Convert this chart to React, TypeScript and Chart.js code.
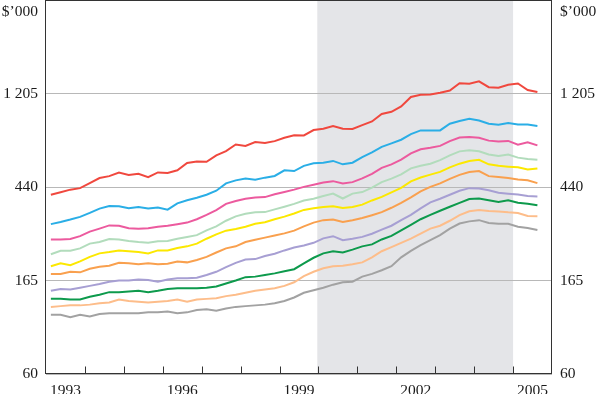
import React, { useEffect, useRef } from 'react';
import { Chart, registerables } from 'chart.js';

Chart.register(...registerables);

// ---------- DATA ----------
const QUARTERS = [
  '1993Q1', '1993Q2', '1993Q3', '1993Q4', '1994Q1', '1994Q2', '1994Q3', '1994Q4',
  '1995Q1', '1995Q2', '1995Q3', '1995Q4', '1996Q1', '1996Q2', '1996Q3', '1996Q4',
  '1997Q1', '1997Q2', '1997Q3', '1997Q4', '1998Q1', '1998Q2', '1998Q3', '1998Q4',
  '1999Q1', '1999Q2', '1999Q3', '1999Q4', '2000Q1', '2000Q2', '2000Q3', '2000Q4',
  '2001Q1', '2001Q2', '2001Q3', '2001Q4', '2002Q1', '2002Q2', '2002Q3', '2002Q4',
  '2003Q1', '2003Q2', '2003Q3', '2003Q4', '2004Q1', '2004Q2', '2004Q3', '2004Q4',
  '2005Q1', '2005Q2', '2005Q3',
];

const DECILE_10 = [408, 419, 431, 438, 462, 488, 498, 517, 504, 511, 493, 518, 515, 530, 573, 583, 581, 622, 651, 699, 687, 717, 710, 724, 751, 771, 770, 815, 827, 852, 827, 825, 859, 894, 968, 991, 1049, 1161, 1190, 1192, 1215, 1244, 1345, 1337, 1373, 1289, 1281, 1324, 1341, 1251, 1224];
const DECILE_9 = [298, 305, 313, 322, 336, 352, 362, 361, 353, 358, 352, 356, 348, 372, 385, 395, 408, 426, 461, 476, 486, 479, 490, 499, 530, 526, 556, 571, 574, 586, 565, 575, 610, 642, 681, 707, 735, 780, 812, 812, 812, 872, 898, 920, 903, 872, 863, 880, 865, 864, 852];
const DECILE_8 = [253, 253, 254, 262, 275, 284, 294, 293, 285, 284, 285, 290, 293, 298, 303, 314, 329, 346, 370, 382, 391, 396, 398, 410, 420, 431, 444, 454, 465, 472, 460, 467, 486, 510, 544, 565, 594, 635, 664, 675, 688, 724, 753, 756, 751, 728, 722, 726, 697, 716, 692];
const DECILE_7 = [216, 224, 224, 230, 242, 246, 254, 253, 249, 246, 244, 248, 249, 255, 260, 265, 279, 291, 309, 324, 333, 338, 339, 349, 359, 370, 384, 391, 403, 413, 392, 413, 420, 440, 467, 485, 507, 541, 556, 569, 591, 622, 649, 656, 650, 628, 617, 628, 607, 598, 594];
const DECILE_6 = [190, 196, 192, 200, 210, 218, 221, 225, 223, 221, 218, 225, 225, 231, 235, 242, 255, 267, 278, 283, 290, 299, 304, 314, 323, 334, 347, 353, 358, 361, 354, 358, 367, 384, 399, 419, 439, 471, 491, 506, 521, 547, 569, 586, 593, 565, 556, 551, 547, 535, 541];
const DECILE_5 = [175, 175, 179, 178, 185, 189, 191, 197, 196, 194, 196, 194, 195, 200, 198, 203, 210, 220, 230, 235, 246, 252, 258, 264, 270, 278, 291, 303, 311, 313, 305, 311, 318, 328, 339, 355, 374, 397, 423, 444, 461, 484, 505, 520, 526, 498, 493, 488, 480, 476, 462];
const DECILE_4 = [146, 149, 148, 151, 154, 157, 161, 163, 163, 165, 164, 161, 165, 167, 167, 168, 173, 179, 188, 197, 204, 205, 212, 217, 225, 232, 237, 244, 256, 262, 251, 255, 260, 269, 281, 293, 311, 329, 353, 376, 391, 408, 426, 438, 436, 428, 417, 413, 409, 403, 401];
const DECILE_3 = [134, 134, 133, 133, 137, 140, 144, 144, 145, 146, 144, 146, 149, 150, 150, 150, 151, 153, 158, 163, 169, 170, 173, 176, 180, 184, 196, 208, 218, 223, 220, 227, 235, 240, 253, 263, 279, 296, 314, 329, 344, 359, 374, 390, 392, 385, 378, 385, 375, 371, 365];
const DECILE_2 = [123, 124, 125, 125, 126, 128, 129, 133, 131, 130, 129, 130, 131, 133, 130, 133, 134, 135, 138, 140, 143, 146, 148, 150, 154, 160, 171, 179, 186, 190, 191, 194, 198, 209, 223, 233, 244, 255, 269, 284, 293, 309, 328, 342, 347, 343, 341, 338, 336, 325, 324];
const DECILE_1 = [113, 113, 110, 113, 111, 114, 115, 115, 115, 115, 116, 116, 117, 115, 116, 119, 120, 118, 121, 123, 124, 125, 126, 128, 131, 136, 143, 147, 151, 156, 160, 161, 170, 175, 182, 190, 209, 224, 238, 251, 265, 284, 300, 307, 311, 302, 299, 299, 290, 286, 280];

const Y_TICKS = [60, 163.1, 443.3, 1205.1];
const Y_TICK_LABELS = ['60', '165', '440', '1 205'];
const YEAR_LABELS = [1993, 1996, 1999, 2002, 2005];
const X_MIN = 1993;
const X_MAX = 2006;
const Y_MIN = 60;
const Y_MAX = 3276;
const SHADE_START = 1999.97;
const SHADE_END = 2005;
const UNIT = '$\u2019000';

// ---------- STYLE ----------
const SERIES = [
  { name: 'Decile 10', color: '#f0483e', values: DECILE_10 },
  { name: 'Decile 9', color: '#2aaee6', values: DECILE_9 },
  { name: 'Decile 8', color: '#ec5a9e', values: DECILE_8 },
  { name: 'Decile 7', color: '#b2dcbc', values: DECILE_7 },
  { name: 'Decile 6', color: '#fce800', values: DECILE_6 },
  { name: 'Decile 5', color: '#f9a04e', values: DECILE_5 },
  { name: 'Decile 4', color: '#a79fd3', values: DECILE_4 },
  { name: 'Decile 3', color: '#0d9a4c', values: DECILE_3 },
  { name: 'Decile 2', color: '#fdbd8a', values: DECILE_2 },
  { name: 'Decile 1', color: '#a2a2a2', values: DECILE_1 },
];

const FONT = { family: '"Liberation Serif", "Times New Roman", serif', size: 15.5 };
const TEXT_COLOR = '#1a1a1a';
const FRAME_COLOR = '#333333';

function quarterToX(q: string): number {
  const year = parseInt(q.slice(0, 4), 10);
  const qn = parseInt(q.slice(5), 10);
  return year + (qn - 0.5) / 4;
}

const decor = {
  id: 'decor',
  beforeDraw(chart: any) {
    const { ctx, chartArea: a, scales } = chart;
    const x = scales.x;
    const x0 = x.getPixelForValue(SHADE_START);
    const x1 = x.getPixelForValue(SHADE_END);
    ctx.save();
    ctx.fillStyle = '#e4e5e8';
    ctx.fillRect(x0, a.top, x1 - x0, a.bottom - a.top);
    ctx.restore();
  },
  afterDraw(chart: any) {
    const { ctx, chartArea: a, scales } = chart;
    const x = scales.x;
    ctx.save();
    // frame
    ctx.strokeStyle = FRAME_COLOR;
    ctx.lineWidth = 1;
    ctx.strokeRect(a.left - 0.5, a.top + 0.5, a.right - a.left, a.bottom - a.top - 1);
    // inward year ticks
    ctx.beginPath();
    for (let yr = X_MIN + 1; yr < X_MAX; yr++) {
      const px = Math.round(x.getPixelForValue(yr)) + 0.5;
      ctx.moveTo(px, a.bottom - 0.5);
      ctx.lineTo(px, a.bottom - 7.5);
    }
    ctx.stroke();
    // year labels
    ctx.fillStyle = TEXT_COLOR;
    ctx.font = `${FONT.size}px ${FONT.family}`;
    ctx.textAlign = 'center';
    ctx.textBaseline = 'alphabetic';
    for (const yr of YEAR_LABELS) {
      ctx.fillText(String(yr), x.getPixelForValue(yr + 0.5), a.bottom + 20.5);
    }
    // unit labels
    ctx.textAlign = 'right';
    ctx.fillText(UNIT, a.left - 8, 15.5);
    ctx.textAlign = 'left';
    ctx.fillText(UNIT, a.right + 8, 15.5);
    ctx.restore();
  },
};

export default function App() {
  const ref = useRef<HTMLCanvasElement>(null);

  useEffect(() => {
    const canvas = ref.current;
    if (!canvas) return;

    const yBase = {
      type: 'logarithmic' as const,
      min: Y_MIN,
      max: Y_MAX,
      afterBuildTicks: (s: any) => {
        s.ticks = Y_TICKS.map((v) => ({ value: v }));
      },
      border: { display: false },
      ticks: {
        autoSkip: false,
        padding: 8,
        color: TEXT_COLOR,
        font: FONT,
        callback: (_v: any, i: number) => Y_TICK_LABELS[i],
      },
    };

    const chart = new Chart(canvas, {
      type: 'line',
      data: {
        datasets: SERIES.map((s) => ({
          label: s.name,
          data: s.values.map((v, i) => ({ x: quarterToX(QUARTERS[i]), y: v })),
          borderColor: s.color,
          backgroundColor: s.color,
          borderWidth: 2,
          pointRadius: 0,
          fill: false,
          tension: 0,
        })),
      },
      options: {
        responsive: false,
        animation: false,
        devicePixelRatio: 1,
        layout: { padding: 0 },
        plugins: { legend: { display: false }, tooltip: { enabled: false } },
        scales: {
          x: {
            type: 'linear',
            min: X_MIN,
            max: X_MAX,
            ticks: { display: false },
            grid: { display: false },
            border: { display: false },
            afterFit: (s: any) => {
              s.height = 20;
              s.paddingLeft = 0;
              s.paddingRight = 0;
            },
          },
          y: {
            ...yBase,
            position: 'left',
            grid: { color: '#b8b8b8', lineWidth: 1, drawTicks: false },
            afterFit: (s: any) => {
              s.width = 46;
              s.paddingTop = 0;
              s.paddingBottom = 0;
            },
          },
          y2: {
            ...yBase,
            position: 'right',
            grid: { display: false, drawTicks: false },
            afterFit: (s: any) => {
              s.width = 48;
              s.paddingTop = 0;
              s.paddingBottom = 0;
            },
          },
        },
      } as any,
      plugins: [decor],
    });

    return () => chart.destroy();
  }, []);

  return (
    <div style={{ position: 'absolute', left: 0, top: 0, width: 600, height: 394, background: '#fff' }}>
      <canvas ref={ref} width={600} height={394} style={{ display: 'block', width: 600, height: 394 }} />
    </div>
  );
}
